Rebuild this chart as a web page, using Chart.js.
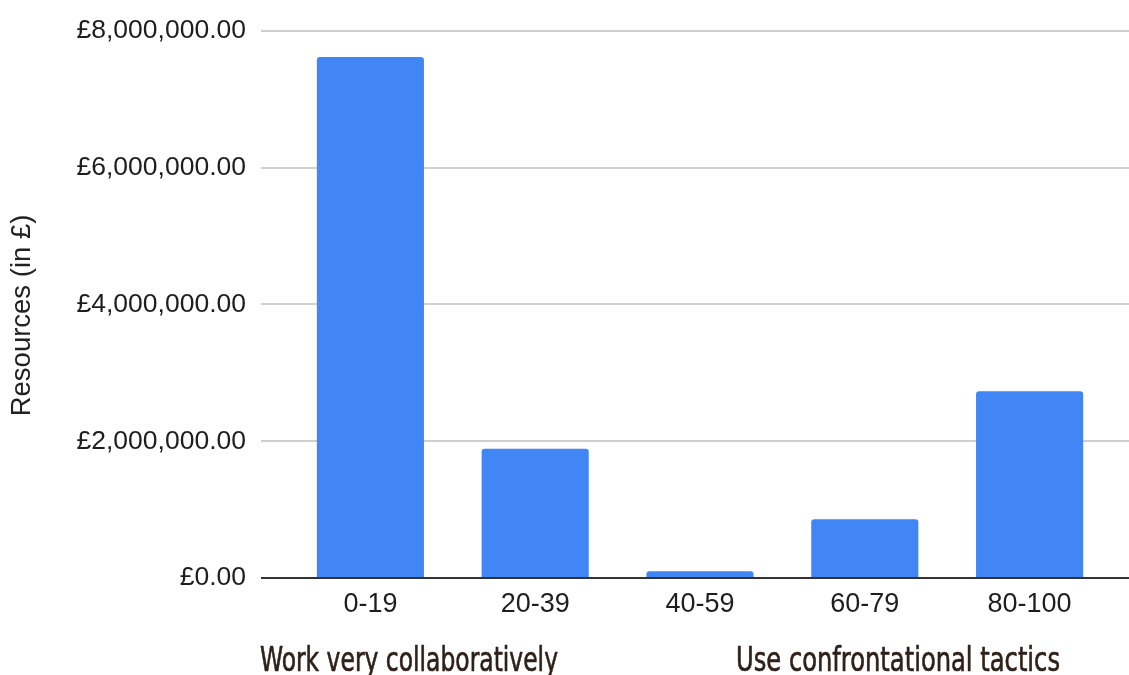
<!DOCTYPE html>
<html>
<head>
<meta charset="utf-8">
<style>
  html, body { margin: 0; padding: 0; background: #ffffff; }
  #wrap { position: relative; width: 1129px; height: 675px; }
</style>
<script src="https://cdn.jsdelivr.net/npm/chart.js@4/dist/chart.umd.min.js"></script>
</head>
<body>
<div id="wrap"><canvas id="chart" width="1129" height="675"></canvas></div>
<script>
// Score bands and the resources allocated to each band
const categories = ['0-19', '20-39', '40-59', '60-79', '80-100'];
const resources = [7620000, 1890000, 100000, 860000, 2730000];

// Value axis range
const yMin = 0;
const yMax = 8000000;
const yStep = 2000000;

// Text
const yAxisTitle = 'Resources (in £)';
const leftCaption = 'Work very collaboratively';
const rightCaption = 'Use confrontational tactics';

const sansFamily = '"Liberation Sans", Arial, Helvetica, sans-serif';
const gridColor = '#cfcfcf';
const baseColor = '#333333';

function formatPounds(v) {
  const fixed = Math.abs(v).toFixed(2);
  const [intPart, dec] = fixed.split('.');
  const grouped = intPart.replace(/\B(?=(\d{3})+(?!\d))/g, ',');
  return (v < 0 ? '-' : '') + '£' + grouped + '.' + dec;
}

// Draws a caption in a narrow, medium-weight style, squeezed horizontally to the given width
function drawNarrowText(ctx, text, x, y, width) {
  const w = ctx.measureText(text).width;
  const sx = width / w;
  ctx.save();
  ctx.translate(x, y);
  ctx.scale(sx, 1);
  ctx.fillText(text, 0, 0);
  ctx.lineWidth = 0.6;
  ctx.lineJoin = 'round';
  ctx.strokeText(text, 0, 0);
  ctx.restore();
}

// Extends the horizontal gridlines to the right edge, draws the rotated
// axis title and the two captions under the category axis.
const decorations = {
  id: 'decorations',
  beforeDatasetsDraw(chart) {
    const { ctx, chartArea, scales } = chart;
    const y = scales.y;
    ctx.save();
    y.ticks.forEach(t => {
      const py = Math.round(y.getPixelForValue(t.value));
      ctx.strokeStyle = t.value === 0 ? baseColor : gridColor;
      ctx.lineWidth = 2;
      ctx.beginPath();
      ctx.moveTo(chartArea.right, py);
      ctx.lineTo(chart.width, py);
      ctx.stroke();
    });
    ctx.restore();
  },
  afterDraw(chart) {
    const { ctx, scales } = chart;
    const y = scales.y;
    ctx.save();
    // axis title
    ctx.fillStyle = '#222222';
    ctx.font = '27.5px ' + sansFamily;
    ctx.textAlign = 'center';
    ctx.textBaseline = 'middle';
    ctx.translate(22, (y.top + y.bottom) / 2 + 11);
    ctx.rotate(-Math.PI / 2);
    ctx.fillText(yAxisTitle, 0, 0);
    ctx.restore();

    // captions
    ctx.save();
    ctx.fillStyle = '#2f2119';
    ctx.strokeStyle = '#2f2119';
    ctx.font = '33px "DejaVu Sans Condensed", "DejaVu Sans", sans-serif';
    ctx.textAlign = 'left';
    ctx.textBaseline = 'alphabetic';
    drawNarrowText(ctx, leftCaption, 260, 671, 298);
    drawNarrowText(ctx, rightCaption, 736, 671, 324);
    ctx.restore();
  }
};

new Chart(document.getElementById('chart'), {
  type: 'bar',
  data: {
    labels: categories,
    datasets: [{
      data: resources,
      backgroundColor: '#4285f4',
      borderRadius: { topLeft: 3, topRight: 3, bottomLeft: 0, bottomRight: 0 },
      borderSkipped: 'start',
      barPercentage: 0.65,
      categoryPercentage: 1.0
    }]
  },
  options: {
    responsive: false,
    animation: false,
    devicePixelRatio: 1,
    layout: { padding: { top: 27, right: 17, bottom: 0, left: 0 } },
    plugins: {
      legend: { display: false },
      tooltip: { enabled: false }
    },
    scales: {
      x: {
        grid: { display: false, drawTicks: false },
        border: { display: false },
        ticks: { color: '#1e1e1e', font: { family: sansFamily, size: 27 }, padding: 10, maxRotation: 0 },
        afterFit(scale) { scale.height = 97; }
      },
      y: {
        min: yMin,
        max: yMax,
        ticks: {
          stepSize: yStep,
          color: '#1e1e1e',
          font: { family: sansFamily, size: 26.5 },
          padding: 15,
          callback: v => formatPounds(v)
        },
        grid: {
          color: ctx => (ctx.tick && ctx.tick.value === 0 ? baseColor : gridColor),
          tickColor: ctx => (ctx.tick && ctx.tick.value === 0 ? baseColor : gridColor),
          lineWidth: 2,
          tickLength: 27
        },
        border: { display: false },
        afterFit(scale) { scale.width = 288; }
      }
    }
  },
  plugins: [decorations]
});
</script>
</body>
</html>
